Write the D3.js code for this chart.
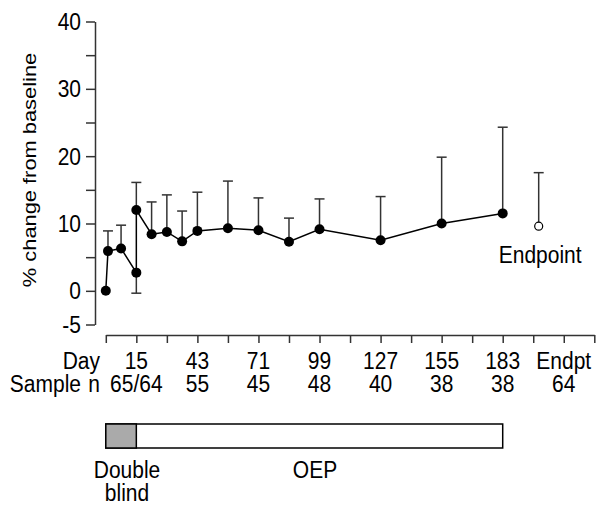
<!DOCTYPE html>
<html>
<head>
<meta charset="utf-8">
<script src="https://cdn.jsdelivr.net/npm/d3@7"></script>
<style>
  body { margin: 0; background: #fff; }
  text { font-family: "Liberation Sans", Arial, sans-serif; fill: #000; }
</style>
</head>
<body>
<div id="chart"></div>
<script>
// ----------------------------------------------- //
// Data
var days = [1, 2, 8, 15, 15, 22, 29, 36, 43, 57, 71, 85, 99, 127, 155, 183];
var pctChange = [0, 5.9, 6.3, 2.7, 12.0, 8.4, 8.75, 7.35, 8.9, 9.3, 9.0, 7.3, 9.15, 7.5, 10.0, 11.5];
var errUpper = [null, 8.9, 9.75, null, 16.1, 13.2, 14.25, 11.85, 14.65, 16.3, 13.8, 10.8, 13.65, 14.0, 19.85, 24.3];
var errLower = [null, null, null, -0.35, null, null, null, null, null, null, null, null, null, null, null, null];

var endpointDay = 199.5;
var endpointValue = 9.6;
var endpointUpper = 17.55;

var dayLabels = ["15", "43", "71", "99", "127", "155", "183", "Endpt"];
var labelDays = [15, 43, 71, 99, 127, 155, 183, 211];
var sampleN = ["65/64", "55", "45", "48", "40", "38", "38", "64"];

var yTickValues = [-5, 0, 5, 10, 15, 20, 25, 30, 35, 40];
var yLabelValues = [-5, 0, 10, 20, 30, 40];

// ----------------------------------------------- //
// SVG container
var svgWidth = 606;
var svgHeight = 506;
var stretch = 1.15; // text in the picture is a bit taller than wide

var svg = d3.select("#chart")
    .append("svg")
    .attr("width", svgWidth)
    .attr("height", svgHeight);

var xScale = d3.scaleLinear().domain([1, 225]).range([105.8, 594.3]);
var yScale = d3.scaleLinear().domain([-5, 40]).range([324.5, 21.5]);

function addText(x, y, str, anchor, size) {
    return svg.append("text")
        .attr("transform", `translate(${x},${y}) scale(1,${stretch})`)
        .attr("text-anchor", anchor)
        .style("font-size", (size || 21) + "px")
        .text(str);
}

// ----------------------------------------------- //
// Axes
var leftAxis = d3.axisLeft(yScale)
    .tickValues(yTickValues)
    .tickSize(9)
    .tickSizeOuter(0)
    .tickFormat("");

var yAxis = svg.append("g")
    .attr("transform", "translate(95,0)")
    .call(leftAxis);

var bottomAxis = d3.axisBottom(xScale)
    .tickValues(d3.range(1, 226, 14))
    .tickSize(8)
    .tickSizeOuter(0)
    .tickFormat("");

var xAxis = svg.append("g")
    .attr("transform", "translate(0,335)")
    .call(bottomAxis);

svg.selectAll(".domain, .tick line")
    .attr("stroke", "#333")
    .attr("stroke-width", 1.5);

yLabelValues.forEach(function(v) {
    addText(81, yScale(v) + 8.5, v, "end");
});

// y title
svg.append("text")
    .attr("transform", `translate(36,170) rotate(-90) scale(${stretch},1)`)
    .attr("text-anchor", "middle")
    .style("font-size", "19px")
    .text("% change from baseline");

// x labels
addText(100, 369, "Day", "end");
addText(81, 392, "Sample", "end");
addText(100, 392, "n", "end");
labelDays.forEach(function(d, i) {
    addText(xScale(d), 369, dayLabels[i], "middle");
    addText(xScale(d), 392, sampleN[i], "middle");
});

// ----------------------------------------------- //
// Error bars
var pts = days.map(function(d, i) {
    return { day: d, val: pctChange[i], hi: errUpper[i], lo: errLower[i] };
});

var errGroup = svg.append("g")
    .attr("stroke", "#333")
    .attr("stroke-width", 1.5);

pts.forEach(function(p) {
    [p.hi, p.lo].forEach(function(e) {
        if (e === null) return;
        var cx = xScale(p.day);
        errGroup.append("line")
            .attr("x1", cx).attr("x2", cx)
            .attr("y1", yScale(p.val)).attr("y2", yScale(e));
        errGroup.append("line")
            .attr("x1", cx - 5).attr("x2", cx + 5)
            .attr("y1", yScale(e)).attr("y2", yScale(e));
    });
});

// endpoint error bar
errGroup.append("line")
    .attr("x1", xScale(endpointDay)).attr("x2", xScale(endpointDay))
    .attr("y1", yScale(endpointValue)).attr("y2", yScale(endpointUpper));
errGroup.append("line")
    .attr("x1", xScale(endpointDay) - 5).attr("x2", xScale(endpointDay) + 5)
    .attr("y1", yScale(endpointUpper)).attr("y2", yScale(endpointUpper));

// ----------------------------------------------- //
// Line and circles
var line = d3.line()
    .x(d => xScale(d.day))
    .y(d => yScale(d.val));

svg.append("path")
    .datum(pts)
    .attr("d", line)
    .attr("fill", "none")
    .attr("stroke", "#000")
    .attr("stroke-width", 1.5);

svg.selectAll("circle.pt")
    .data(pts)
    .enter()
    .append("circle")
    .classed("pt", true)
    .attr("cx", d => xScale(d.day))
    .attr("cy", d => yScale(d.val))
    .attr("r", 5)
    .attr("fill", "#000");

svg.append("circle")
    .attr("cx", xScale(endpointDay))
    .attr("cy", yScale(endpointValue))
    .attr("r", 4)
    .attr("fill", "#fff")
    .attr("stroke", "#000")
    .attr("stroke-width", 1.2);

addText(xScale(endpointDay) + 1.5, 263, "Endpoint", "middle");

// ----------------------------------------------- //
// Study phase bar
var barTop = 424;
var barHeight = 24;

svg.append("rect")
    .attr("x", xScale(1))
    .attr("y", barTop)
    .attr("width", xScale(183) - xScale(1))
    .attr("height", barHeight)
    .attr("fill", "#fff")
    .attr("stroke", "#000")
    .attr("stroke-width", 1.5);

svg.append("rect")
    .attr("x", xScale(1))
    .attr("y", barTop)
    .attr("width", xScale(15) - xScale(1))
    .attr("height", barHeight)
    .attr("fill", "#aaa")
    .attr("stroke", "#000")
    .attr("stroke-width", 1.5);

addText(127, 478, "Double", "middle");
addText(127, 501, "blind", "middle");
addText(315, 478, "OEP", "middle");
</script>
</body>
</html>
